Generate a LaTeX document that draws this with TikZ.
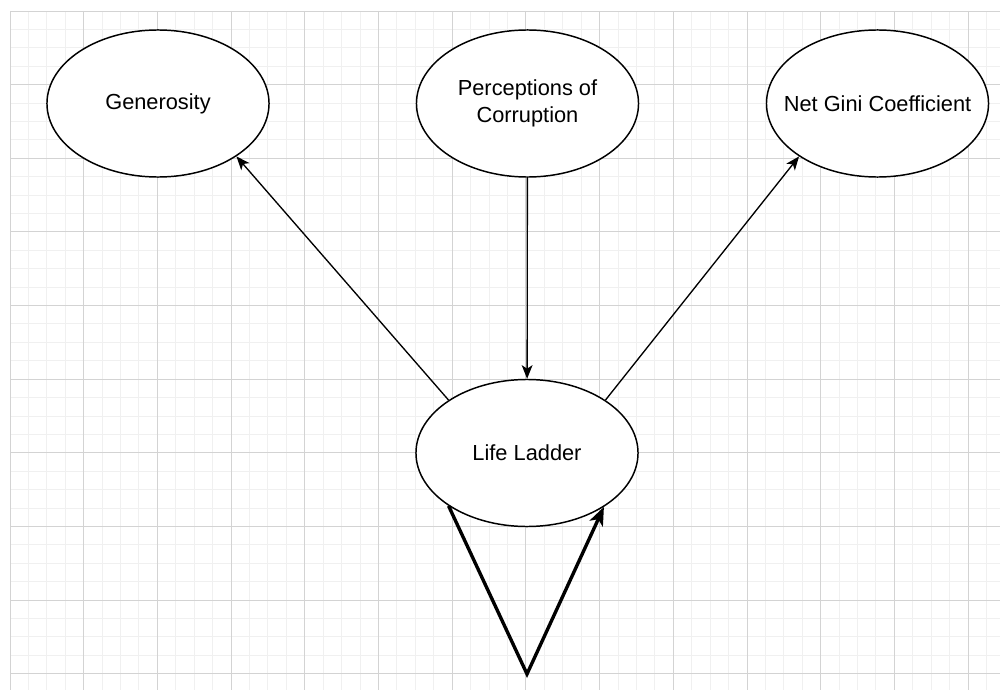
\documentclass[tikz,border=0pt]{standalone}
\usepackage{fontspec}
\setmainfont{Liberation Sans}
\usepackage{tikz}
\usetikzlibrary{arrows.meta, positioning, shapes.geometric}

\definecolor{gridminor}{HTML}{F0F0F0}
\definecolor{gridmajor}{HTML}{D3D3D3}

\begin{document}
\begin{tikzpicture}[
    x=0.025cm, y=-0.025cm,
    every node/.style={font=\fontsize{15.5}{19.2}\selectfont},
    state/.style={ellipse, draw, line width=1.05pt, fill=white, inner xsep=-0.6cm, inner ysep=0pt,
                  minimum width=5.55cm, minimum height=3.675cm, align=center},
    arrow/.style={-{Stealth[length=3.4mm, width=2.7mm, inset=0.9mm]}, line width=0.95pt},
    selfloop/.style={-{Stealth[length=4.6mm, width=3.6mm, inset=1.2mm]}, line width=2.4pt, line join=miter}
]
    \useasboundingbox (0,0) rectangle (1000,690);
    % background grid
    \foreach \i in {0,...,53}
        \draw[gridminor, line width=0.7pt] ({10+18.425*\i},11) -- ({10+18.425*\i},690);
    \foreach \j in {0,...,36}
        \draw[gridminor, line width=0.7pt] (10,{11+18.41*\j}) -- (1000,{11+18.41*\j});
    \foreach \i in {0,...,13}
        \draw[gridmajor, line width=0.7pt] ({10+73.7*\i},11) -- ({10+73.7*\i},690);
    \foreach \j in {0,...,9}
        \draw[gridmajor, line width=0.7pt] (10,{11+73.64*\j}) -- (1000,{11+73.64*\j});

    \node[state] (gen) at (158,103.5) {Generosity};
    \node[state] (perc) at (527.5,103.5) {Perceptions of\\Corruption};
    \node[state] (gini) at (877.5,103.5) {Net Gini Coefficient};
    \node[state] (ll) at (527,453) {Life Ladder};
    \coordinate (tip) at (527,674);

    \draw[arrow] (ll.146) -- (gen.-34);
    \draw[arrow] (perc) -- (ll);
    \draw[arrow] (ll.34) -- (gini.-146);
    \draw[selfloop] (ll.-146) -- (tip) -- (ll.-35);
\end{tikzpicture}
\end{document}
